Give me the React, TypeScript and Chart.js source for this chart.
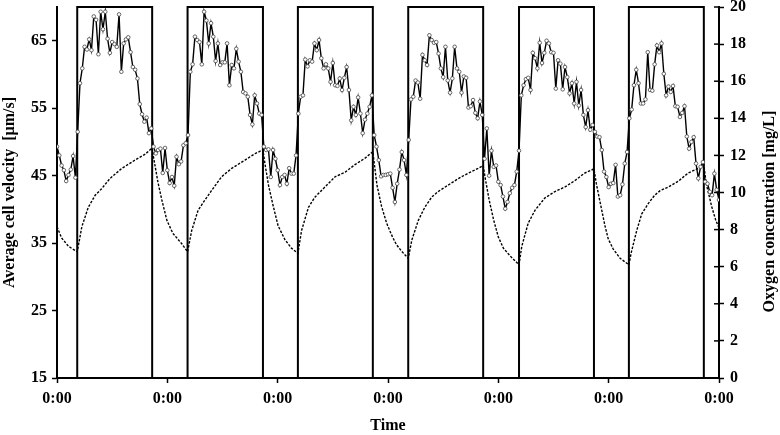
import React, { useEffect, useRef } from "react";
import { Chart, registerables } from "chart.js";

Chart.register(...registerables);

// ---- data ----
const SAMPLE_STEP_H = 0.5; // velocity sampled every 30 min
const velocity = [
  // day 1
  49.3, 48.0, 46.5, 45.8, 44.2, 45.1, 45.9, 47.9, 44.7,
  51.5, 58.7, 60.9, 64.1, 63.7, 65.2, 63.6, 68.6, 68.1, 63.0, 69.3, 66.7, 69.3, 65.3, 63.2, 64.8, 64.5, 64.1, 68.9, 60.4, 64.6, 65.2, 65.5, 63.3, 61.1, 60.7, 59.4, 55.6, 54.1, 53.0, 53.6, 51.3, 52.0,
  49.3, 48.3, 48.8, 49.0, 45.4, 49.1,
  // day 2
  45.8, 43.9, 44.8, 43.5, 47.8, 46.7, 47.1, 49.5, 49.8,
  51.0, 60.4, 61.5, 65.6, 65.1, 64.8, 61.5, 69.3, 68.0, 64.6, 67.6, 65.6, 62.0, 64.6, 61.4, 61.8, 61.8, 64.6, 58.4, 61.4, 60.9, 63.8, 61.9, 60.4, 57.4, 57.2, 56.7, 54.0, 52.6, 56.9, 55.7, 54.2, 54.0,
  49.3, 48.8, 48.9, 44.8, 48.8, 47.5,
  // day 3
  45.8, 43.6, 44.8, 45.1, 43.8, 46.1, 45.3, 45.3, 48.0,
  54.2, 56.7, 56.9, 62.2, 61.2, 62.1, 61.9, 64.6, 63.6, 65.1, 62.4, 60.9, 61.5, 60.9, 58.9, 61.7, 58.4, 58.3, 59.4, 57.7, 59.5, 61.1, 57.7, 53.2, 55.2, 54.0, 56.6, 54.2, 51.3, 53.3, 54.2, 55.2, 56.9,
  51.0, 49.3, 47.3, 44.9, 45.1, 45.1,
  // day 4
  45.2, 45.3, 43.2, 41.1, 43.8, 45.9, 48.5, 47.3, 45.1,
  50.3, 56.3, 56.7, 59.1, 58.8, 56.4, 62.9, 62.1, 61.4, 65.8, 65.1, 64.7, 64.8, 63.1, 60.9, 59.6, 64.1, 59.1, 57.3, 59.4, 64.1, 60.9, 60.4, 57.3, 59.7, 59.5, 55.1, 55.3, 56.2, 54.3, 53.5, 56.0, 54.0,
  47.5, 52.0, 45.0, 48.7, 46.3, 46.5,
  // day 5
  44.1, 43.6, 41.9, 40.1, 41.1, 42.4, 43.2, 43.6, 45.6,
  48.7, 56.9, 58.4, 59.3, 59.5, 57.7, 63.2, 62.4, 60.9, 64.7, 61.7, 63.2, 65.0, 64.6, 63.3, 63.2, 57.9, 62.1, 61.6, 57.8, 61.1, 59.6, 57.2, 58.7, 55.7, 58.9, 55.4, 57.7, 54.0, 52.2, 54.7, 51.8, 52.5,
  51.5, 50.8, 50.7, 48.8, 45.6, 44.8,
  // day 6
  43.3, 43.8, 43.9, 46.6, 41.9, 42.1, 43.7, 46.8, 48.5,
  53.5, 54.8, 58.4, 60.7, 58.7, 55.7, 55.7, 56.3, 63.3, 57.7, 57.6, 61.5, 64.3, 63.3, 64.6, 60.1, 56.9, 58.2, 57.4, 58.3, 55.3, 55.2, 53.7, 54.3, 55.3, 50.8, 49.0, 50.0, 50.7, 46.8, 44.6, 46.3, 47.0,
  44.1, 43.8, 42.6, 42.1, 45.3, 42.9, 41.4,
];

const o2Times = [
  0, 1.0, 2.5, 4.4, 5.4, 6.8, 8.3, 9.7, 11.5, 14.1, 17.0, 19.1, 20.7, 21.0, 22.0, 22.8, 23.9,
  25.2, 27.1, 28.4, 29.3, 30.7, 32.2, 33.6, 35.8, 38.0, 40.9, 43.1, 44.8, 45.2, 46.0, 47.0, 48.1, 49.6, 51.0,
  52.4, 53.2, 54.7, 56.1, 58.3, 60.5, 62.7, 64.8, 67.0, 68.7, 69.0, 69.6, 70.6, 71.7, 72.8, 73.8, 74.9,
  76.4, 77.2, 78.6, 80.0, 81.5, 82.9, 85.1, 87.3, 89.5, 91.6, 92.7, 93.2, 94.0, 95.0, 96.0, 97.1, 98.5,
  100.5, 101.1, 102.5, 104.0, 106.1, 108.3, 110.5, 112.7, 114.8, 116.8, 117.3, 118.2, 119.2, 119.9, 121.0, 122.5,
  124.4, 124.9, 126.1, 127.2, 128.6, 130.0, 131.2, 133.0, 135.1, 137.3, 139.5, 140.7, 141.2, 142.4, 143.3, 144,
];
const o2Values = [
  8.15, 7.55, 7.1, 6.8, 8.15, 9.2, 9.85, 10.2, 10.75, 11.3, 11.75, 12.05, 12.4, 11.9, 10.5, 9.6, 8.5,
  7.8, 7.25, 6.8, 7.95, 9.05, 9.6, 10.1, 10.85, 11.3, 11.75, 12.1, 12.3, 11.6, 10.4, 9.3, 8.2, 7.45, 7.0,
  6.72, 7.95, 9.2, 9.75, 10.3, 10.85, 11.1, 11.5, 11.85, 12.2, 11.6, 10.4, 9.25, 8.35, 7.7, 7.2, 6.85,
  6.45, 7.45, 8.5, 9.2, 9.75, 10.05, 10.4, 10.75, 11.05, 11.3, 11.45, 10.7, 9.6, 8.5, 7.6, 7.0, 6.6,
  6.1, 7.1, 8.35, 9.05, 9.7, 10.05, 10.3, 10.65, 11.05, 11.27, 10.5, 9.4, 8.2, 7.5, 6.95, 6.45,
  6.1, 6.75, 7.95, 8.85, 9.4, 9.85, 10.1, 10.3, 10.6, 11.05, 11.3, 11.5, 10.5, 9.25, 8.5, 8.1,
];

// light on/off switching times (hours) and level on the O2 axis
const lightTimes = [0, 4.4, 4.4, 20.7, 20.7, 28.4, 28.4, 44.8, 44.8, 52.4, 52.4, 68.7, 68.7, 76.4, 76.4, 92.7, 92.7, 100.5, 100.5, 116.8, 116.8, 124.4, 124.4, 140.7, 140.7, 144];
const lightLevels = [0, 0, 20, 20, 0, 0, 20, 20, 0, 0, 20, 20, 0, 0, 20, 20, 0, 0, 20, 20, 0, 0, 20, 20, 0, 0];

const xTickValues = [0, 24, 48, 72, 96, 120, 144];
const xTickLabel = "0:00";
const velTicks = [15, 25, 35, 45, 55, 65];
const o2Min = 0, o2Max = 20, o2Step = 2;
const velMin = 15, velMax = 70;

const leftTitle = "Average cell velocity  [\u00b5m/s]";
const rightTitle = "Oxygen concentration [mg/L]";
const xTitle = "Time";

const FONT_FAMILY = '"Liberation Serif", "Times New Roman", serif';

const decorPlugin = {
  id: "decor",
  afterDraw(chart: any) {
    const { ctx, chartArea } = chart;
    const yR = chart.scales.yO2;
    ctx.save();
    ctx.strokeStyle = "#000";
    ctx.lineWidth = 1.5;
    yR.ticks.forEach((t: any) => {
      const y = yR.getPixelForValue(t.value);
      ctx.beginPath();
      ctx.moveTo(chartArea.right - 5, y);
      ctx.lineTo(chartArea.right, y);
      ctx.stroke();
    });
    ctx.fillStyle = "#000";
    ctx.font = `bold 16px ${FONT_FAMILY}`;
    ctx.textAlign = "center";
    ctx.textBaseline = "middle";
    const midY = (chartArea.top + chartArea.bottom) / 2;
    ctx.save();
    ctx.translate(10, midY);
    ctx.rotate(-Math.PI / 2);
    ctx.fillText(leftTitle, 0, 0);
    ctx.restore();
    ctx.save();
    ctx.translate(chart.width - 10, midY + 19);
    ctx.rotate(-Math.PI / 2);
    ctx.fillText(rightTitle, 0, 0);
    ctx.restore();
    ctx.restore();
  },
};

export default function App() {
  const ref = useRef<HTMLCanvasElement | null>(null);

  useEffect(() => {
    document.body.style.margin = "0";
    if (!ref.current) return;
    const tickFont = { family: FONT_FAMILY, size: 16, weight: "bold" as const };
    const noPadV = (s: any, w: number) => {
      s.width = w;
      s.paddingTop = 0;
      s.paddingBottom = 0;
    };
    const chart = new Chart(ref.current, {
      type: "line",
      data: {
        datasets: [
          {
            label: "velocity",
            yAxisID: "yVel",
            data: velocity.map((v, i) => ({ x: i * SAMPLE_STEP_H, y: v })),
            borderColor: "#000",
            borderWidth: 1.4,
            pointRadius: 1.8,
            pointBorderWidth: 0.8,
            pointBorderColor: "#444",
            pointBackgroundColor: "#fff",
            tension: 0,
          },
          {
            label: "oxygen",
            yAxisID: "yO2",
            data: o2Times.map((t, i) => ({ x: t, y: o2Values[i] })),
            borderColor: "#000",
            borderWidth: 1.4,
            borderDash: [2.5, 1.5],
            pointRadius: 0,
            tension: 0,
          },
          {
            label: "light",
            yAxisID: "yO2",
            data: lightTimes.map((t, i) => ({ x: t, y: lightLevels[i] })),
            borderColor: "#000",
            borderWidth: 2,
            pointRadius: 0,
            tension: 0,
            clip: false as any,
          },
        ],
      },
      options: {
        responsive: false,
        animation: false,
        events: [],
        layout: { padding: { top: 7, left: 0, right: 0, bottom: 0 } },
        plugins: { legend: { display: false }, tooltip: { enabled: false } },
        scales: {
          x: {
            type: "linear",
            min: 0,
            max: 144,
            afterBuildTicks: (s: any) => {
              s.ticks = xTickValues.map((v) => ({ value: v }));
            },
            afterFit: (s: any) => {
              s.height = 57;
              s.paddingLeft = 0;
              s.paddingRight = 0;
            },
            ticks: {
              callback: () => xTickLabel,
              font: tickFont,
              color: "#000",
              padding: 6,
              maxRotation: 0,
              autoSkip: false,
            },
            grid: { drawOnChartArea: false, drawTicks: true, tickLength: 5, tickWidth: 1.5, color: "#000" },
            border: { display: true, color: "#000", width: 2 },
            title: { display: true, text: xTitle, font: tickFont, color: "#000", padding: { top: 0, bottom: 0 } },
          },
          yVel: {
            type: "linear",
            position: "left",
            min: velMin,
            max: velMax,
            afterBuildTicks: (s: any) => {
              s.ticks = velTicks.map((v) => ({ value: v }));
            },
            afterFit: (s: any) => noPadV(s, 57),
            ticks: { font: tickFont, color: "#000", padding: 5 },
            grid: { drawOnChartArea: false, drawTicks: true, tickLength: 5, tickWidth: 1.5, color: "#000" },
            border: { display: true, color: "#000", width: 2 },
          },
          yO2: {
            type: "linear",
            position: "right",
            min: o2Min,
            max: o2Max,
            ticks: { stepSize: o2Step, font: tickFont, color: "#000", padding: 6 },
            afterFit: (s: any) => noPadV(s, 61),
            grid: { drawOnChartArea: false, drawTicks: true, tickLength: 5, tickWidth: 1.5, color: "#000" },
            border: { display: true, color: "#000", width: 2 },
          },
        },
      },
      plugins: [decorPlugin],
    });
    return () => chart.destroy();
  }, []);

  return (
    <div style={{ width: 780, height: 435, background: "#fff" }}>
      <canvas ref={ref} width={780} height={435} style={{ display: "block" }} />
    </div>
  );
}
